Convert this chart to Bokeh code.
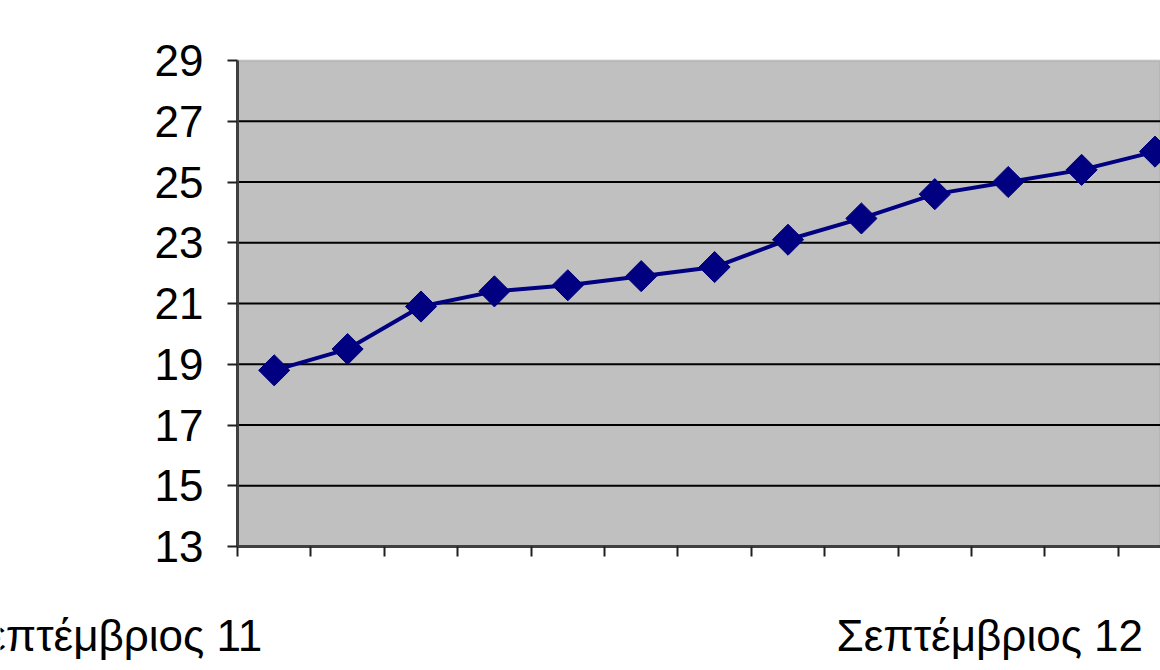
import math
from bokeh.plotting import figure
from bokeh.models import FixedTicker, Label, Range1d, BoxAnnotation
from bokeh.embed import file_html
from bokeh.resources import INLINE

# Data
months = ["Σεπτέμβριος 11", "Οκτώβριος 11", "Νοέμβριος 11", "Δεκέμβριος 11",
          "Ιανουάριος 12", "Φεβρουάριος 12", "Μάρτιος 12", "Απρίλιος 12",
          "Μάιος 12", "Ιούνιος 12", "Ιούλιος 12", "Αύγουστος 12", "Σεπτέμβριος 12"]
values = [18.8, 19.5, 20.9, 21.4, 21.6, 21.9, 22.2, 23.1, 23.8, 24.6, 25.0, 25.4, 26.0]
shown_labels = ["Σεπτέμβριος 11", "Σεπτέμβριος 12"]
y_ticks = [13, 15, 17, 19, 21, 23, 25, 27, 29]

xs = [i + 0.5 for i in range(len(months))]

FONT = "Liberation Sans"

# layout geometry (pixels)
W, H = 1160, 670
AX_LEFT, AX_TOP, AX_BOTTOM = 237, 60, 546
CAT_PX = 73.4
y_min, y_max = y_ticks[0], y_ticks[-1]
px_per_unit = (AX_BOTTOM - AX_TOP) / (y_max - y_min)

x_start = -AX_LEFT / CAT_PX
x_end = (W - AX_LEFT) / CAT_PX
y_top = y_max + AX_TOP / px_per_unit
y_bottom = y_min - (H - AX_BOTTOM) / px_per_unit

p = figure(width=W, height=H, output_backend="svg", toolbar_location=None,
           x_range=Range1d(x_start, x_end), y_range=Range1d(y_bottom, y_top),
           min_border_left=0, min_border_right=0, min_border_top=0,
           min_border_bottom=0)

p.background_fill_color = "white"
p.border_fill_color = "white"
p.outline_line_color = None
p.xgrid.visible = False
p.ygrid.visible = False

# plot area
p.add_layout(BoxAnnotation(left=0, bottom=y_min, top=y_max,
                           fill_color="#C0C0C0", fill_alpha=1.0,
                           line_color="#808080", line_width=2,
                           level="underlay"))

# horizontal grid lines
grid_vals = y_ticks[1:-1]
p.segment(x0=[0] * len(grid_vals), x1=[x_end] * len(grid_vals),
          y0=grid_vals, y1=grid_vals, line_color="black", line_width=2)

# y axis
p.yaxis.fixed_location = 0
p.yaxis.bounds = (y_min, y_max)
p.yaxis.ticker = FixedTicker(ticks=y_ticks)
p.yaxis.axis_line_color = "#404040"
p.yaxis.axis_line_width = 3
p.yaxis.major_tick_line_color = "#202020"
p.yaxis.major_tick_line_width = 2
p.yaxis.major_tick_out = 10
p.yaxis.major_tick_in = 0
p.yaxis.minor_tick_line_color = None
p.yaxis.major_label_standoff = 24
p.yaxis.major_label_text_font = FONT
p.yaxis.major_label_text_font_size = "44px"
p.yaxis.major_label_text_color = "black"

# x axis: tick marks at category boundaries, no labels
p.xaxis.fixed_location = y_min
p.xaxis.bounds = (0, len(months))
p.xaxis.ticker = FixedTicker(ticks=list(range(len(months) + 1)))
p.xaxis.axis_line_color = "#404040"
p.xaxis.axis_line_width = 3
p.xaxis.major_tick_line_color = "#202020"
p.xaxis.major_tick_line_width = 2
p.xaxis.major_tick_out = 10
p.xaxis.major_tick_in = 0
p.xaxis.minor_tick_line_color = None
p.xaxis.major_label_text_font_size = "0px"
p.xaxis.major_label_text_alpha = 0

# series
p.line(xs, values, line_color="#000080", line_width=4)
p.scatter(xs, values, marker="square", angle=math.pi / 4, size=22,
          fill_color="#000080", line_color="#000080")

# category labels (only the September months shown)
label_y = y_min - 89 / px_per_unit
label_dx = 12 / CAT_PX
for i, m in enumerate(months):
    if m in shown_labels:
        p.add_layout(Label(x=xs[i] - label_dx, y=label_y,
                           text=m, text_align="right", text_baseline="alphabetic",
                           text_font=FONT, text_font_size="44px",
                           text_color="black"))

open("out.html", "w").write(file_html(p, INLINE))
